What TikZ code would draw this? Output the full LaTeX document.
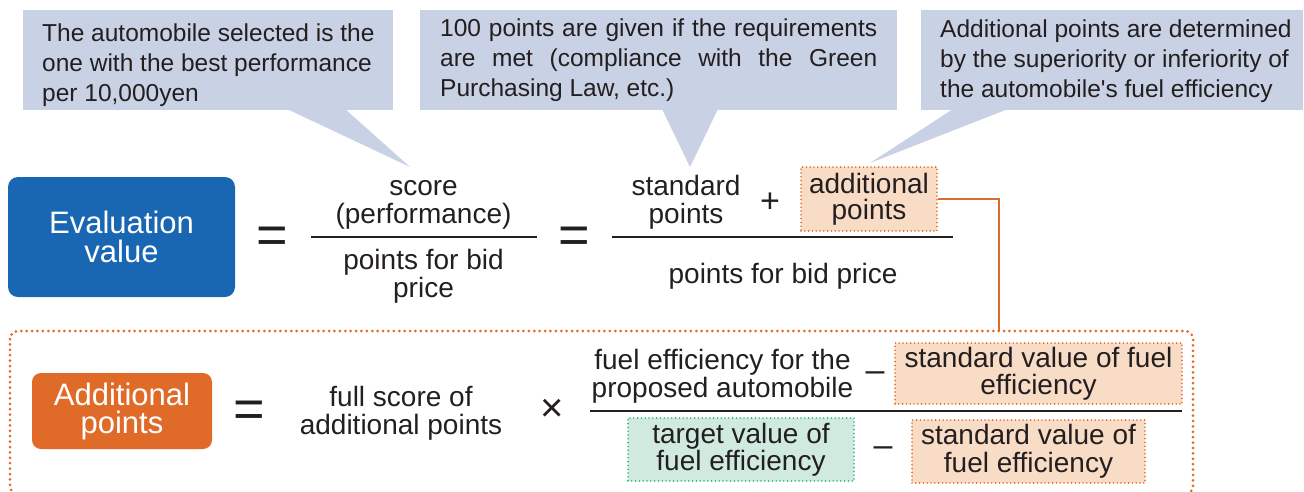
\documentclass[tikz,border=0pt]{standalone}
\usepackage{fontspec}
\setmainfont{Liberation Sans}
\definecolor{ink}{HTML}{231F20}
\definecolor{bubblefill}{HTML}{C9D1E5}
\definecolor{evalblue}{HTML}{1967B3}
\definecolor{addorange}{HTML}{E06B29}
\definecolor{paleorange}{HTML}{F9DCC5}
\definecolor{palegreen}{HTML}{D0EADF}
\definecolor{dotgreen}{HTML}{2BB673}
\begin{document}
\begin{tikzpicture}[x=1pt,y=-1pt,
  every node/.style={text=ink, inner sep=0pt},
  bubble/.style={fill=bubblefill},
  note/.style={anchor=north west, align=left, font=\fontsize{24.5}{30}\selectfont},
  term/.style={align=center, font=\fontsize{28}{28}\selectfont},
  boxterm/.style={align=center, font=\fontsize{28}{27}\selectfont, line width=1.8pt, dash pattern=on 0pt off 3.8pt, line cap=round},
  hilite/.style={boxterm, fill=paleorange, draw=addorange},
  target/.style={boxterm, fill=palegreen, draw=dotgreen},
  sign/.style={font=\fontsize{54}{54}\selectfont},
  opsign/.style={font=\fontsize{34}{34}\selectfont},
  fracline/.style={draw=ink, line width=1.5pt},
  link/.style={draw=addorange, line width=2.6pt},
  frame/.style={draw=addorange, line width=3pt, dash pattern=on 0pt off 5.4pt, line cap=round, rounded corners=8pt}]
\useasboundingbox (0,0) rectangle (1304,491);
% callouts
\fill[bubble] (23,10) rectangle (393,110);
\fill[bubble] (287,109) -- (410,167) -- (345,109) -- cycle;
\node[note] (note1) at (42,24) {The automobile selected is the\\one with the best performance\\per 10,000yen};
\fill[bubble] (420,10) rectangle (897,110);
\fill[bubble] (662,109) -- (690,167) -- (718,109) -- cycle;
\node[note] (note2) at (440,19) {\makebox[437pt][s]{100 points are given if the requirements}\\\makebox[437pt][s]{are met (compliance with the Green}\\Purchasing Law, etc.)};
\fill[bubble] (921,10) rectangle (1303,110);
\fill[bubble] (953,109) -- (870,163) -- (1008,109) -- cycle;
\node[note] (note3) at (940,20) {Additional points are determined\\by the superiority or inferiority of\\the automobile\textquotesingle s fuel efficiency};
% evaluation value
\node[fill=evalblue, rounded corners=10pt, minimum width=227pt, minimum height=120pt, text=white, align=center, font=\fontsize{31}{29.5}\selectfont] (evalval) at (121.5,237) {Evaluation\\value};
\node[sign] (eqa) at (272.5,240) {=};
\node[term] (perf) at (423.5,204.5) {score\\(performance)};
\draw[fracline] (311,237) -- (537,237);
\node[term] (bidprice) at (423.5,276.5) {points for bid\\price};
\node[sign] (eqb) at (574,240) {=};
\node[term] (stdpts) at (686,202.5) {standard\\points};
\node[opsign] (plus) at (770,203) {+};
\node[hilite, font=\fontsize{28}{26}\selectfont, minimum width=136pt, minimum height=64pt] (addpts) at (869,199) {additional\\points};
\draw[fracline] (612,237) -- (953,237);
\node[term, anchor=base] (bidprice2) at (783,283) {points for bid price};
% additional points
\coordinate (frametop) at (999,331);
\draw[link] (addpts.east) -| (frametop);
\draw[frame] (10,331) rectangle (1193,494);
\node[fill=addorange, rounded corners=9pt, minimum width=180pt, minimum height=76pt, text=white, align=center, font=\fontsize{31}{28}\selectfont] (addval) at (122,411) {Additional\\points};
\node[sign] (eqc) at (249,414) {=};
\node[term] (fullscore) at (401,413.5) {full score of\\additional points};
\node[opsign, font=\fontsize{40}{40}\selectfont] (times) at (552,410) {×};
\node[term] (fuelprop) at (722.5,376) {fuel efficiency for the\\proposed automobile};
\node[opsign] (minusa) at (875,377) {–};
\node[hilite, minimum width=287pt, minimum height=61pt] (stdtop) at (1038.5,373.5) {standard value of fuel\\efficiency};
\draw[fracline] (590,411) -- (1182,411);
\node[target, minimum width=226pt, minimum height=63pt] (target) at (741,449.5) {target value of\\fuel efficiency};
\node[opsign] (minusb) at (883,452) {–};
\node[hilite, font=\fontsize{28}{28}\selectfont, minimum width=233pt, minimum height=63pt] (stdbot) at (1028.5,451.5) {standard value of\\fuel efficiency};
\end{tikzpicture}
\end{document}
